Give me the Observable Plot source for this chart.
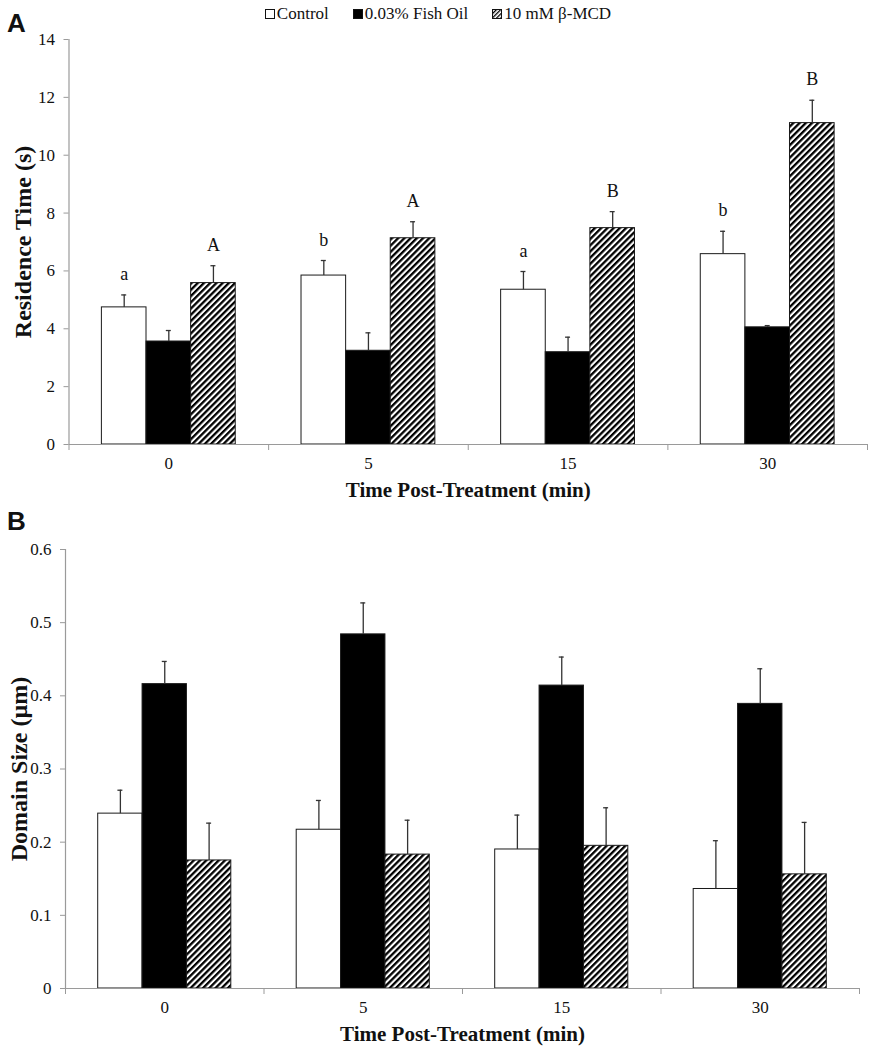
<!DOCTYPE html>
<html>
<head>
<meta charset="utf-8">
<script src="https://cdn.jsdelivr.net/npm/d3@7"></script>
<script src="https://cdn.jsdelivr.net/npm/@observablehq/plot@0.6"></script>
<style>
  body { margin: 0; background: #fff; }
  #wrap { position: relative; width: 870px; height: 1050px; overflow: hidden; font-family: "Liberation Serif", "Times New Roman", serif; color: #111; background: #fff; }
  .panel { position: absolute; left: 0; z-index: 1; }
  .plabel { position: absolute; font-family: "Liberation Sans", Arial, sans-serif; font-weight: bold; font-size: 26px; line-height: 1; z-index: 3; }
  #legend { position: absolute; top: 4px; left: 0; width: 876px; display: flex; justify-content: center; gap: 24px; font-family: "Liberation Serif", serif; font-size: 17px; line-height: 19px; z-index: 3; }
  #legend .item { display: flex; align-items: center; gap: 2px; }
  #legend svg { display: block; }
</style>
</head>
<body>
<div id="wrap">
  <div id="legend"></div>
  <div class="plabel" style="left:7px;top:10px;">A</div>
  <div class="plabel" style="left:7px;top:508px;">B</div>
  <div class="panel" id="panelA" style="top:0px;"></div>
  <div class="panel" id="panelB" style="top:505px;"></div>
</div>
<script>
// ---------- data ----------
const times = ["0", "5", "15", "30"];
const groups = ["Control", "0.03% Fish Oil", "10 mM β-MCD"];

// Panel A: Residence Time (s)
const residenceControl = [4.74, 5.84, 5.35, 6.58];
const residenceControlErr = [0.43, 0.52, 0.63, 0.79];
const residenceFishOil = [3.56, 3.24, 3.19, 4.05];
const residenceFishOilErr = [0.38, 0.62, 0.52, 0.06];
const residenceMCD = [5.58, 7.13, 7.48, 11.11];
const residenceMCDErr = [0.60, 0.57, 0.57, 0.79];
const residenceControlLetters = ["a", "b", "a", "b"];
const residenceMCDLetters = ["A", "A", "B", "B"];
const residenceTicks = [0, 2, 4, 6, 8, 10, 12, 14];

// Panel B: Domain Size (µm)
const domainControl = [0.239, 0.217, 0.190, 0.136];
const domainControlErr = [0.032, 0.040, 0.047, 0.066];
const domainFishOil = [0.416, 0.484, 0.414, 0.389];
const domainFishOilErr = [0.031, 0.043, 0.039, 0.048];
const domainMCD = [0.175, 0.183, 0.195, 0.156];
const domainMCDErr = [0.051, 0.047, 0.052, 0.071];
const domainTicks = [0, 0.1, 0.2, 0.3, 0.4, 0.5, 0.6];

// ---------- helpers ----------
function buildRows(series, errs, letters) {
  const rows = [];
  times.forEach((t, i) => {
    groups.forEach((g, j) => {
      rows.push({time: t, ti: i, group: g, gj: j, mean: series[j][i], err: errs[j][i], letter: letters[j] ? letters[j][i] : null});
    });
  });
  return rows;
}

const BAR_W = 0.2235;   // bar width as a fraction of a category slot
const CAP = 0.0125;     // half-width of error-bar cap
const center = d => d.ti + 0.5 + (d.gj - 1) * BAR_W;

function addHatch(svg, id) {
  const defs = d3.select(svg).insert("defs", ":first-child");
  const p = defs.append("pattern")
    .attr("id", id)
    .attr("patternUnits", "userSpaceOnUse")
    .attr("width", 4.4).attr("height", 4.4)
    .attr("patternTransform", "rotate(45)");
  p.append("rect").attr("width", 4.4).attr("height", 4.4).attr("fill", "white");
  p.append("rect").attr("width", 2.3).attr("height", 4.4).attr("fill", "black");
}

function panel({rows, yDomain, yTicks, yTitle, hatchId, width, height, margins, yTickFormat}) {
  const fills = ["white", "black", `url(#${hatchId})`];
  const top = d => d.mean + d.err;
  const svg = Plot.plot({
    width, height,
    marginTop: margins[0], marginRight: margins[1], marginBottom: margins[2], marginLeft: margins[3],
    style: {fontFamily: "'Liberation Serif', 'Times New Roman', serif", fontSize: "17px", color: "#111", background: "transparent", overflow: "visible"},
    x: {type: "linear", domain: [0, 4], label: null},
    y: {domain: yDomain, label: null},
    marks: [
      Plot.rectY(rows, {
        x1: d => center(d) - BAR_W / 2,
        x2: d => center(d) + BAR_W / 2,
        y1: 0, y2: "mean",
        fill: d => fills[d.gj],
        stroke: "#1a1a1a", strokeWidth: 1
      }),
      Plot.ruleX(rows, {x: center, y1: "mean", y2: top, stroke: "#333", strokeWidth: 1.3}),
      Plot.ruleY(rows, {y: top, x1: d => center(d) - CAP, x2: d => center(d) + CAP, stroke: "#333", strokeWidth: 1.3}),
      Plot.text(rows.filter(d => d.letter), {x: center, y: top, text: "letter", dy: -15, lineAnchor: "bottom", fontSize: 18, fill: "#111"}),
      // axis lines
      Plot.ruleY([yDomain[0]], {stroke: "#9a9a9a", strokeWidth: 1.2}),
      Plot.ruleX([0], {y1: yDomain[0], y2: yDomain[1], stroke: "#9a9a9a", strokeWidth: 1.2}),
      Plot.axisY({ticks: yTicks, tickSize: 5, tickPadding: 9, stroke: "#9a9a9a", fill: "#111", fontSize: 17, label: null, tickFormat: yTickFormat}),
      Plot.axisX({ticks: [0, 1, 2, 3, 4], tickSize: 6, tickFormat: () => "", stroke: "#9a9a9a", label: null}),
      Plot.axisX({ticks: [0.5, 1.5, 2.5, 3.5], tickSize: 0, tickPadding: 12, tickFormat: d => times[Math.floor(d)], fill: "#111", fontSize: 17, label: null}),
      // axis titles
      Plot.text([yTitle], {frameAnchor: "left", dx: -46, rotate: -90, textAnchor: "middle", lineAnchor: "middle", fontWeight: "bold", fontSize: 24, fill: "#111"}),
      Plot.text(["Time Post-Treatment (min)"], {frameAnchor: "bottom", dy: 46, textAnchor: "middle", lineAnchor: "middle", fontWeight: "bold", fontSize: 21, fill: "#111"})
    ]
  });
  addHatch(svg, hatchId);
  return svg;
}

// ---------- panel A ----------
const rowsA = buildRows(
  [residenceControl, residenceFishOil, residenceMCD],
  [residenceControlErr, residenceFishOilErr, residenceMCDErr],
  [residenceControlLetters, null, residenceMCDLetters]
);
document.getElementById("panelA").appendChild(panel({
  rows: rowsA, yDomain: [0, 14], yTicks: residenceTicks, yTitle: "Residence Time (s)",
  hatchId: "hatchA", width: 870, height: 505, margins: [39, 3, 61, 68.5], yTickFormat: d => String(d)
}));

// ---------- panel B ----------
const rowsB = buildRows(
  [domainControl, domainFishOil, domainMCD],
  [domainControlErr, domainFishOilErr, domainMCDErr],
  [null, null, null]
);
document.getElementById("panelB").appendChild(panel({
  rows: rowsB, yDomain: [0, 0.6], yTicks: domainTicks, yTitle: "Domain Size (µm)",
  hatchId: "hatchB", width: 870, height: 545, margins: [44, 11, 62, 65], yTickFormat: d => d === 0 ? "0" : d3.format(".1f")(d)
}));

// ---------- legend ----------
const legend = d3.select("#legend");
const swatchFill = ["white", "black", "url(#hatchL)"];
groups.forEach((g, j) => {
  const item = legend.append("div").attr("class", "item");
  const s = item.append("svg").attr("width", 10).attr("height", 10);
  if (j === 2) {
    const p = s.append("defs").append("pattern").attr("id", "hatchL").attr("patternUnits", "userSpaceOnUse")
      .attr("width", 3).attr("height", 3).attr("patternTransform", "rotate(45)");
    p.append("rect").attr("width", 3).attr("height", 3).attr("fill", "white");
    p.append("rect").attr("width", 1.3).attr("height", 3).attr("fill", "black");
  }
  s.append("rect").attr("x", 0.5).attr("y", 0.5).attr("width", 9).attr("height", 9)
    .attr("fill", swatchFill[j]).attr("stroke", "#111").attr("stroke-width", 1);
  item.append("span").text(g);
});
</script>
</body>
</html>
